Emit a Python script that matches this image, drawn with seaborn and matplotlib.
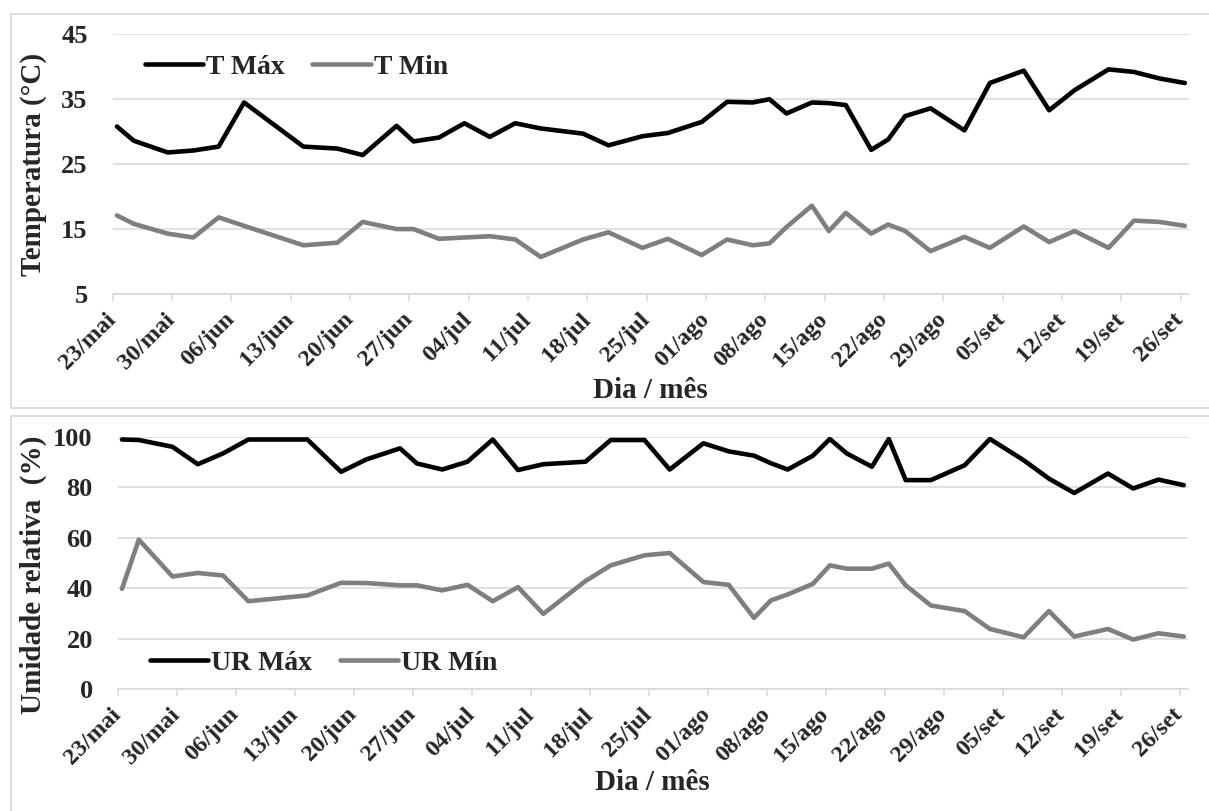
import matplotlib
matplotlib.use('Agg')
import matplotlib.pyplot as plt
import matplotlib.transforms as mtransforms
import seaborn as sns
import pandas as pd
from matplotlib.patches import Rectangle

# dias contados a partir de 23/mai
dias = [0, 2, 6, 9, 12, 15, 22, 26, 29, 33, 35, 38, 41, 44, 47, 50, 55, 58, 62, 65,
        69, 72, 75, 77, 79, 82, 84, 86, 89, 91, 93, 96, 100, 103, 107, 110, 113, 117,
        120, 123, 126]

t_max = [30.8, 28.6, 26.8, 27.1, 27.7, 34.5, 27.7, 27.4, 26.4, 30.9, 28.5, 29.1, 31.3,
         29.2, 31.3, 30.5, 29.7, 27.9, 29.3, 29.8, 31.5, 34.6, 34.5, 35.0, 32.8, 34.5,
         34.4, 34.1, 27.2, 28.8, 32.4, 33.6, 30.2, 37.5, 39.4, 33.3, 36.4, 39.6, 39.2,
         38.2, 37.5]
t_min = [17.1, 15.8, 14.3, 13.7, 16.8, 15.5, 12.5, 12.9, 16.1, 15.0, 15.0, 13.5, 13.7,
         13.9, 13.4, 10.7, 13.4, 14.5, 12.1, 13.5, 11.0, 13.4, 12.5, 12.8, 15.3, 18.6,
         14.7, 17.5, 14.3, 15.7, 14.7, 11.6, 13.8, 12.1, 15.4, 13.0, 14.7, 12.1, 16.3,
         16.1, 15.5]
ur_max = [98.9, 98.7, 96.0, 89.1, 93.4, 98.9, 98.9, 86.1, 91.0, 95.4, 89.4, 87.0, 90.1,
          98.9, 86.8, 89.1, 90.1, 98.7, 98.7, 87.0, 97.4, 94.2, 92.5, 89.5, 87.0, 92.5,
          99.1, 93.4, 88.1, 99.1, 82.8, 82.8, 88.7, 99.1, 90.7, 83.4, 77.7, 85.4, 79.5,
          83.0, 80.8]
ur_min = [39.7, 59.2, 44.6, 46.0, 45.0, 34.8, 37.1, 42.1, 42.0, 41.1, 41.1, 39.1, 41.3,
          34.8, 40.4, 29.8, 42.8, 49.0, 53.0, 53.9, 42.4, 41.3, 28.2, 35.1, 37.5, 41.7,
          49.0, 47.7, 47.7, 49.7, 41.1, 33.1, 30.9, 23.8, 20.5, 30.9, 20.8, 23.8, 19.6,
          22.1, 20.8]

rotulos = ['23/mai', '30/mai', '06/jun', '13/jun', '20/jun', '27/jun', '04/jul',
           '11/jul', '18/jul', '25/jul', '01/ago', '08/ago', '15/ago', '22/ago',
           '29/ago', '05/set', '12/set', '19/set', '26/set']

sns.set_style('white')
plt.rcParams['font.family'] = ['Liberation Serif', 'DejaVu Serif']
plt.rcParams['font.weight'] = 'bold'

cinza = '#D9D9D9'
cores = ['black', '#7F7F7F']


def tabela(nome1, v1, nome2, v2):
    # Excel centra cada ponto no meio do dia
    x = [d + 0.5 for d in dias]
    return pd.DataFrame({
        'x': x + x,
        'valor': v1 + v2,
        'serie': [nome1] * len(v1) + [nome2] * len(v2),
    })


def painel(ax, df, ylim, yticks, ylabel, leg_y, ylab_pos):
    sns.lineplot(data=df, x='x', y='valor', hue='serie', palette=cores,
                 lw=3.3, errorbar=None, ax=ax, solid_capstyle='round',
                 solid_joinstyle='round')
    ax.set_xlim(0, 127)
    ax.set_ylim(*ylim)
    ax.set_yticks(yticks)
    ax.set_xticks(range(0, 127, 7))
    ax.set_xticklabels(rotulos, rotation=45, ha='right', va='center',
                       rotation_mode='anchor', fontsize=17.5)
    desloc = mtransforms.ScaledTranslation(5 / 100, 0, fig.dpi_scale_trans)
    for lab in ax.get_xticklabels():
        lab.set_transform(lab.get_transform() + desloc)
    ax.tick_params(axis='y', length=0, pad=18, labelsize=19)
    ax.tick_params(axis='x', length=5, width=1.1, color=cinza, pad=11,
                   direction='out', bottom=True)
    for s in ['top', 'left', 'right']:
        ax.spines[s].set_visible(False)
    ax.spines['bottom'].set_color(cinza)
    ax.spines['bottom'].set_linewidth(1.1)
    ax.yaxis.grid(True, color=cinza, lw=1.1)
    ax.xaxis.grid(False)
    ax.set_ylabel(ylabel, fontsize=21, fontweight='bold')
    ax.yaxis.label.set_va('center')
    ax.yaxis.set_label_coords(*ylab_pos)
    ax.set_xlabel('Dia / mês', fontsize=21, fontweight='bold')
    ax.xaxis.label.set_va('center')
    ax.xaxis.set_label_coords(0.5, -0.37)
    h, l = ax.get_legend_handles_labels()
    ax.legend(h, l, loc='center left', bbox_to_anchor=(0.03, leg_y), ncol=2,
              frameon=False, fontsize=20, handlelength=2.1, handletextpad=0.1,
              columnspacing=1.0, borderpad=0, borderaxespad=0)


fig = plt.figure(figsize=(12.09, 8.11), dpi=100)

# molduras dos dois gráficos
fig.patches.append(Rectangle((0.0091, 0.4969), 1.0, 0.4858, transform=fig.transFigure,
                             fill=False, ec=cinza, lw=1.3))
fig.patches.append(Rectangle((0.0091, -0.02), 1.0, 0.5074, transform=fig.transFigure,
                             fill=False, ec=cinza, lw=1.3))

ax1 = fig.add_axes([0.0932, 0.6375, 0.8903, 0.3202])
ax2 = fig.add_axes([0.0974, 0.1504, 0.8852, 0.3111])

painel(ax1, tabela('T Máx', t_max, 'T Min', t_min), (5, 45), [5, 15, 25, 35, 45],
       'Temperatura (°C)', 0.874, (-0.0731, 0.5))
painel(ax2, tabela('UR Máx', ur_max, 'UR Mín', ur_min), (0, 100), range(0, 101, 20),
       'Umidade relativa  (%)', 0.103, (-0.0791, 0.452))

fig.savefig('out.png', dpi=100)
